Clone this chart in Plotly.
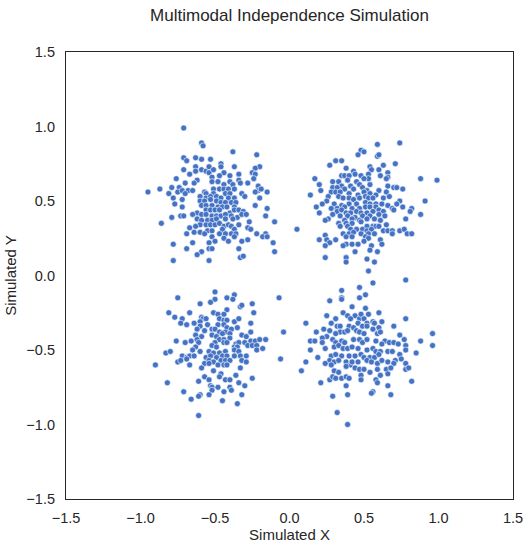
import plotly.graph_objects as go

# Upper-left cluster
x_ul = [-0.71,-0.59,-0.58,-0.38,-0.22,-0.71,-0.69,-0.63,-0.59,-0.53,-0.46,-0.46,-0.37,-0.20,-0.23,-0.71,-0.63,-0.63,-0.59,-0.56,
        -0.54,-0.54,-0.51,-0.67,-0.44,-0.40,-0.34,-0.25,-0.23,-0.24,-0.52,-0.47,-0.76,-0.62,-0.64,-0.52,-0.48,-0.40,-0.34,-0.33,
        -0.28,-0.44,-0.38,-0.70,-0.79,-0.74,-0.21,-0.21,-0.19,-0.15,-0.23,-0.95,-0.87,-0.81,-0.75,-0.72,-0.68,-0.65,-0.57,-0.51,
        -0.47,-0.44,-0.41,-0.37,-0.43,-0.40,-0.32,-0.30,-0.56,-0.51,-0.60,-0.56,-0.53,-0.49,-0.46,-0.41,-0.37,-0.78,-0.70,-0.72,
        -0.20,-0.77,-0.60,-0.57,-0.53,-0.49,-0.46,-0.43,-0.39,-0.36,-0.59,-0.56,-0.52,-0.48,-0.45,-0.42,-0.37,-0.23,-0.72,-0.56,
        -0.53,-0.50,-0.47,-0.40,-0.37,-0.34,-0.31,-0.15,-0.62,-0.59,-0.56,-0.52,-0.49,-0.46,-0.43,-0.39,-0.35,-0.32,-0.29,-0.73,
        -0.71,-0.65,-0.79,-0.16,-0.62,-0.59,-0.55,-0.52,-0.49,-0.43,-0.38,-0.27,-0.86,-0.10,-0.60,-0.56,-0.53,-0.50,-0.47,-0.44,
        -0.41,-0.39,-0.34,-0.67,-0.63,-0.28,-0.26,-0.37,-0.55,-0.52,-0.45,-0.69,-0.64,-0.60,-0.57,-0.47,-0.43,-0.39,-0.36,-0.22,
        -0.16,-0.18,-0.15,-0.52,-0.44,-0.37,-0.50,-0.41,-0.54,-0.65,-0.32,-0.28,-0.11,-0.78,-0.69,-0.54,-0.52,-0.34,-0.59,-0.62,
        -0.10,-0.33,-0.31,-0.78,-0.54]
y_ul = [0.99,0.89,0.87,0.83,0.81,0.79,0.77,0.79,0.78,0.78,0.75,0.73,0.73,0.73,0.72,0.71,0.73,0.70,0.71,0.70,
        0.73,0.69,0.71,0.68,0.69,0.67,0.68,0.69,0.68,0.65,0.66,0.67,0.65,0.64,0.62,0.63,0.63,0.63,0.64,0.62,
        0.62,0.61,0.61,0.62,0.59,0.59,0.60,0.57,0.58,0.56,0.56,0.56,0.58,0.55,0.56,0.57,0.57,0.57,0.56,0.58,
        0.58,0.58,0.58,0.58,0.55,0.55,0.55,0.53,0.55,0.55,0.53,0.52,0.53,0.53,0.52,0.52,0.52,0.52,0.55,0.51,
        0.52,0.48,0.50,0.50,0.51,0.50,0.49,0.49,0.49,0.49,0.47,0.47,0.47,0.46,0.46,0.46,0.46,0.47,0.46,0.44,
        0.44,0.44,0.44,0.42,0.44,0.44,0.43,0.45,0.42,0.41,0.41,0.40,0.40,0.40,0.41,0.40,0.39,0.41,0.41,0.40,
        0.40,0.41,0.39,0.40,0.38,0.37,0.37,0.37,0.38,0.38,0.38,0.36,0.35,0.36,0.34,0.34,0.34,0.34,0.35,0.33,
        0.34,0.33,0.34,0.32,0.33,0.32,0.31,0.31,0.30,0.30,0.31,0.28,0.29,0.29,0.28,0.28,0.28,0.28,0.28,0.28,
        0.28,0.26,0.26,0.26,0.25,0.26,0.23,0.23,0.22,0.22,0.23,0.24,0.22,0.21,0.18,0.18,0.18,0.18,0.16,0.14,
        0.16,0.12,0.13,0.10,0.10]

# Upper-right cluster
x_ur = [0.74,0.59,0.48,0.50,0.46,0.59,0.60,0.31,0.35,0.27,0.63,0.71,0.38,0.54,0.55,0.60,0.43,0.44,0.48,0.53,
        0.53,0.50,0.66,0.66,0.61,0.65,0.17,0.35,0.37,0.40,0.88,0.99,0.29,0.33,0.39,0.45,0.20,0.35,0.41,0.47,
        0.49,0.54,0.66,0.70,0.72,0.76,0.21,0.29,0.32,0.37,0.43,0.52,0.60,0.28,0.31,0.34,0.40,0.46,0.50,0.54,
        0.58,0.65,0.14,0.26,0.33,0.36,0.40,0.43,0.47,0.51,0.53,0.56,0.63,0.67,0.74,0.91,0.25,0.22,0.30,0.35,
        0.40,0.45,0.51,0.54,0.58,0.62,0.66,0.72,0.18,0.28,0.32,0.37,0.42,0.47,0.51,0.54,0.58,0.60,0.69,0.76,
        0.82,0.81,0.20,0.32,0.35,0.38,0.41,0.45,0.48,0.52,0.56,0.63,0.70,0.88,0.29,0.34,0.39,0.44,0.49,0.54,
        0.60,0.64,0.26,0.24,0.37,0.42,0.47,0.52,0.57,0.61,0.78,0.33,0.38,0.42,0.48,0.52,0.56,0.58,0.60,0.65,
        0.34,0.39,0.41,0.45,0.49,0.52,0.55,0.63,0.66,0.69,0.74,0.77,0.69,0.05,0.36,0.40,0.43,0.48,0.53,0.57,
        0.79,0.82,0.38,0.42,0.51,0.53,0.24,0.20,0.25,0.27,0.31,0.38,0.42,0.46,0.50,0.61,0.62,0.24,0.36,0.55,
        0.44,0.54,0.59,0.38,0.24,0.38,0.52,0.57,0.53,0.78]
y_ur = [0.89,0.88,0.84,0.83,0.81,0.80,0.81,0.77,0.77,0.74,0.74,0.75,0.72,0.73,0.71,0.71,0.70,0.68,0.67,0.68,
        0.65,0.65,0.69,0.66,0.67,0.65,0.65,0.67,0.67,0.67,0.65,0.64,0.63,0.63,0.64,0.63,0.61,0.60,0.60,0.61,
        0.59,0.61,0.60,0.59,0.59,0.58,0.57,0.59,0.59,0.58,0.58,0.57,0.57,0.56,0.56,0.56,0.55,0.54,0.56,0.55,
        0.54,0.56,0.54,0.53,0.53,0.52,0.52,0.51,0.52,0.53,0.52,0.52,0.52,0.53,0.50,0.50,0.50,0.48,0.48,0.47,
        0.48,0.48,0.49,0.48,0.48,0.48,0.47,0.48,0.46,0.45,0.45,0.46,0.45,0.45,0.46,0.46,0.46,0.44,0.45,0.46,
        0.45,0.43,0.42,0.43,0.44,0.42,0.42,0.43,0.42,0.42,0.43,0.43,0.44,0.41,0.41,0.40,0.40,0.39,0.40,0.40,
        0.41,0.40,0.38,0.37,0.37,0.38,0.37,0.38,0.38,0.37,0.38,0.35,0.35,0.35,0.36,0.33,0.33,0.33,0.33,0.34,
        0.33,0.33,0.31,0.31,0.31,0.30,0.31,0.30,0.30,0.30,0.30,0.31,0.28,0.31,0.28,0.28,0.29,0.28,0.28,0.28,
        0.28,0.28,0.26,0.26,0.26,0.25,0.27,0.24,0.24,0.22,0.24,0.21,0.21,0.21,0.23,0.24,0.21,0.20,0.20,0.20,
        0.16,0.17,0.16,0.12,0.12,0.09,0.11,0.09,0.03,-0.03]

# Lower-left cluster
x_ll = [-0.50,-0.75,-0.37,-0.42,-0.38,-0.50,-0.07,-0.60,-0.53,-0.25,-0.33,-0.32,-0.42,-0.81,-0.67,-0.51,-0.48,-0.44,-0.24,-0.77,
        -0.72,-0.59,-0.58,-0.56,-0.47,-0.44,-0.42,-0.37,-0.34,-0.73,-0.69,-0.64,-0.60,-0.60,-0.55,-0.48,-0.44,-0.42,-0.26,-0.62,
        -0.57,-0.52,-0.50,-0.47,-0.43,-0.39,-0.35,-0.04,-0.63,-0.59,-0.52,-0.49,-0.45,-0.40,-0.32,-0.26,-0.47,-0.44,-0.40,-0.29,
        -0.76,-0.70,-0.66,-0.62,-0.61,-0.50,-0.44,-0.42,-0.36,-0.34,-0.30,-0.26,-0.23,-0.20,-0.16,-0.52,-0.49,-0.37,-0.35,-0.28,
        -0.25,-0.22,-0.18,-0.63,-0.65,-0.83,-0.80,-0.60,-0.54,-0.51,-0.47,-0.43,-0.37,-0.34,-0.22,-0.72,-0.69,-0.67,-0.64,-0.56,
        -0.53,-0.49,-0.45,-0.42,-0.37,-0.33,-0.29,-0.06,-0.75,-0.73,-0.69,-0.54,-0.51,-0.46,-0.43,-0.40,-0.32,-0.29,-0.90,-0.67,
        -0.57,-0.54,-0.48,-0.44,-0.42,-0.59,-0.33,-0.51,-0.46,-0.36,-0.57,-0.47,-0.25,-0.54,-0.43,-0.40,-0.61,-0.82,-0.34,-0.53,
        -0.52,-0.48,-0.40,-0.30,-0.52,-0.39,-0.71,-0.60,-0.61,-0.44,-0.54,-0.32,-0.66,-0.45,-0.35,-0.61]
y_ll = [-0.11,-0.15,-0.13,-0.15,-0.16,-0.16,-0.15,-0.19,-0.18,-0.19,-0.21,-0.20,-0.23,-0.25,-0.25,-0.25,-0.26,-0.26,-0.25,-0.28,
        -0.29,-0.28,-0.29,-0.29,-0.29,-0.30,-0.30,-0.31,-0.29,-0.32,-0.33,-0.32,-0.31,-0.34,-0.33,-0.33,-0.33,-0.35,-0.32,-0.36,
        -0.37,-0.36,-0.36,-0.38,-0.38,-0.36,-0.35,-0.38,-0.40,-0.41,-0.40,-0.41,-0.39,-0.39,-0.40,-0.38,-0.43,-0.43,-0.42,-0.41,
        -0.44,-0.45,-0.44,-0.43,-0.45,-0.45,-0.45,-0.45,-0.46,-0.45,-0.45,-0.44,-0.44,-0.43,-0.43,-0.47,-0.48,-0.48,-0.48,-0.47,
        -0.47,-0.47,-0.49,-0.48,-0.50,-0.52,-0.51,-0.51,-0.51,-0.52,-0.52,-0.51,-0.50,-0.51,-0.50,-0.54,-0.55,-0.54,-0.54,-0.55,
        -0.54,-0.55,-0.54,-0.54,-0.54,-0.54,-0.54,-0.56,-0.58,-0.57,-0.56,-0.57,-0.58,-0.57,-0.57,-0.57,-0.57,-0.58,-0.60,-0.60,
        -0.59,-0.59,-0.60,-0.60,-0.60,-0.62,-0.62,-0.64,-0.66,-0.67,-0.68,-0.68,-0.69,-0.70,-0.70,-0.70,-0.71,-0.72,-0.72,-0.74,
        -0.75,-0.75,-0.75,-0.74,-0.77,-0.77,-0.78,-0.80,-0.81,-0.78,-0.80,-0.80,-0.83,-0.84,-0.86,-0.94]

# Lower-right cluster
x_lr = [0.56,0.47,0.35,0.51,0.47,0.35,0.35,0.27,0.42,0.36,0.51,0.25,0.39,0.44,0.47,0.48,0.53,0.60,0.78,0.31,
        0.41,0.50,0.52,0.46,0.56,0.57,0.62,0.11,0.70,0.28,0.32,0.34,0.40,0.43,0.49,0.52,0.60,0.23,0.27,0.34,
        0.37,0.39,0.45,0.47,0.50,0.56,0.59,0.61,0.18,0.31,0.74,0.96,0.25,0.14,0.17,0.22,0.22,0.29,0.31,0.35,
        0.37,0.43,0.47,0.49,0.52,0.58,0.64,0.67,0.70,0.62,0.77,0.73,0.78,0.88,0.96,0.24,0.30,0.33,0.36,0.39,
        0.42,0.46,0.52,0.56,0.58,0.61,0.66,0.69,0.78,0.14,0.85,0.28,0.31,0.35,0.40,0.44,0.48,0.50,0.54,0.57,
        0.60,0.74,0.75,0.71,0.19,0.11,0.27,0.30,0.33,0.38,0.41,0.42,0.46,0.52,0.55,0.59,0.62,0.66,0.70,0.78,
        0.24,0.28,0.38,0.44,0.47,0.50,0.54,0.59,0.65,0.68,0.78,0.80,0.08,0.30,0.33,0.61,0.66,0.27,0.29,0.31,
        0.35,0.38,0.40,0.48,0.48,0.58,0.59,0.21,0.82,0.38,0.66,0.56,0.55,0.29,0.39,0.68,0.32,0.39]
y_lr = [-0.05,-0.08,-0.10,-0.13,-0.15,-0.15,-0.16,-0.17,-0.21,-0.25,-0.22,-0.27,-0.27,-0.27,-0.29,-0.26,-0.26,-0.25,-0.29,-0.29,
        -0.29,-0.29,-0.32,-0.32,-0.31,-0.32,-0.31,-0.32,-0.34,-0.32,-0.34,-0.34,-0.34,-0.35,-0.34,-0.34,-0.35,-0.36,-0.37,-0.38,
        -0.38,-0.37,-0.37,-0.38,-0.39,-0.36,-0.39,-0.38,-0.38,-0.39,-0.40,-0.39,-0.41,-0.44,-0.44,-0.42,-0.45,-0.43,-0.45,-0.44,
        -0.45,-0.43,-0.43,-0.45,-0.43,-0.44,-0.44,-0.45,-0.45,-0.46,-0.43,-0.46,-0.47,-0.44,-0.47,-0.49,-0.48,-0.47,-0.49,-0.49,
        -0.48,-0.49,-0.50,-0.49,-0.51,-0.51,-0.51,-0.51,-0.50,-0.50,-0.52,-0.54,-0.53,-0.54,-0.54,-0.54,-0.53,-0.55,-0.55,-0.55,
        -0.53,-0.53,-0.56,-0.57,-0.55,-0.58,-0.57,-0.58,-0.57,-0.58,-0.60,-0.58,-0.58,-0.57,-0.58,-0.59,-0.57,-0.58,-0.59,-0.59,
        -0.59,-0.60,-0.61,-0.62,-0.63,-0.63,-0.65,-0.63,-0.63,-0.62,-0.63,-0.62,-0.64,-0.64,-0.65,-0.67,-0.66,-0.70,-0.68,-0.69,
        -0.69,-0.68,-0.69,-0.67,-0.70,-0.70,-0.72,-0.72,-0.71,-0.74,-0.74,-0.78,-0.79,-0.81,-0.80,-0.80,-0.92,-1.00]

x_all = x_ul + x_ur + x_ll + x_lr
y_all = y_ul + y_ur + y_ll + y_lr

tick_vals = [-1.5, -1.0, -0.5, 0.0, 0.5, 1.0, 1.5]

FONT = "Liberation Sans, Arial, sans-serif"
TXT = "#262626"

fig = go.Figure(go.Scatter(
    x=x_all, y=y_all, mode="markers",
    marker=dict(color="#4472C4", size=6, line=dict(color="white", width=0.6)),
    hoverinfo="skip",
))

axis_common = dict(
    range=[-1.5, 1.5], tickvals=tick_vals, tickformat=".1f",
    showgrid=False, zeroline=False, showline=True, mirror=True,
    linecolor="#262626", linewidth=1.25, automargin=False,
    ticks="outside", tickcolor="rgba(0,0,0,0)",
    tickfont=dict(family=FONT, size=14.5, color=TXT),
)

fig.update_layout(
    width=529, height=549,
    margin=dict(l=66, r=16, t=52, b=50),
    paper_bgcolor="white", plot_bgcolor="white",
    showlegend=False,
    title=dict(text="Multimodal Independence Simulation", x=0.5, xanchor="center",
               xref="paper", y=0.972, yanchor="middle",
               font=dict(family=FONT, size=17, color=TXT)),
    xaxis=dict(**axis_common, ticklen=5,
               title=dict(text="Simulated X", standoff=2,
                          font=dict(family=FONT, size=15, color=TXT))),
    yaxis=dict(**axis_common, ticklen=7,
               title=dict(text="Simulated Y", standoff=6,
                          font=dict(family=FONT, size=15, color=TXT))),
)

fig.write_html("out.html", config={"displayModeBar": False},
               post_script="document.body.style.margin='0';")
